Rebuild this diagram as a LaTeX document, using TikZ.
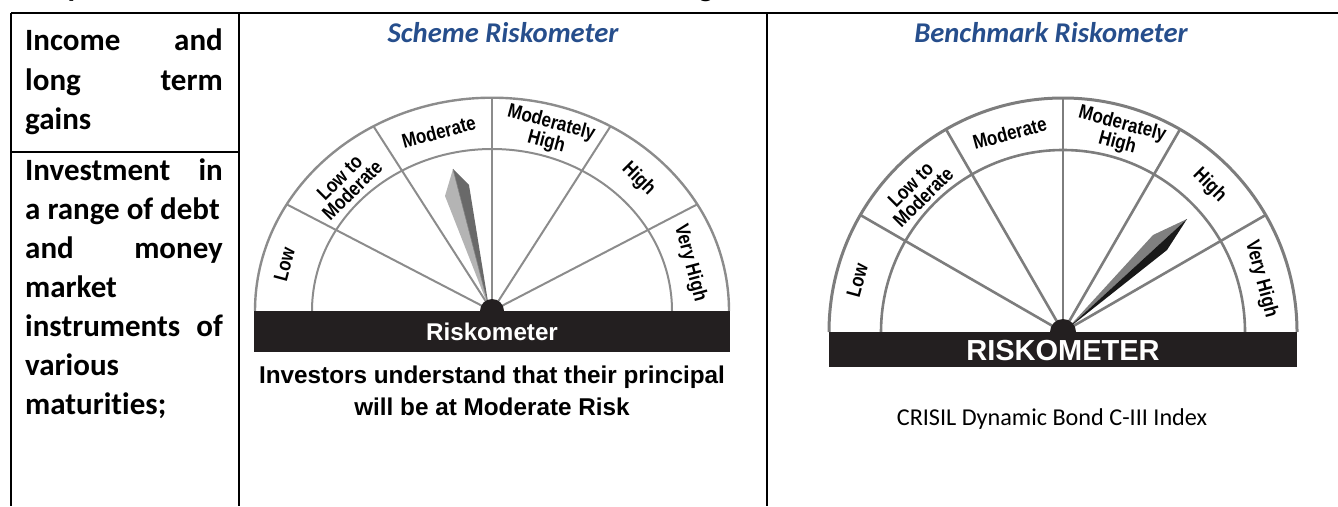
\documentclass[tikz,border=0pt]{standalone}
\usepackage{fontspec}
\setmainfont{Carlito}[Ligatures=NoCommon]
\newfontfamily\helv{Liberation Sans}
\newfontfamily\helvc[FakeStretch=0.85]{Liberation Sans}
\definecolor{hdrblue}{RGB}{38,78,140}
\definecolor{sgray}{RGB}{140,140,140}
\definecolor{bgray}{RGB}{125,125,125}
\definecolor{barblack}{RGB}{35,31,32}
\definecolor{needlelight}{RGB}{180,180,180}
\definecolor{needledark}{RGB}{105,105,105}
\definecolor{needlemid}{RGB}{128,128,128}
\definecolor{needleblack}{RGB}{25,25,25}
\begin{document}
\begin{tikzpicture}[x=1pt,y=1pt,
  tbl/.style={line width=2pt, black},
  cell/.style={inner sep=0pt, font=\fontsize{31}{39}\selectfont\bfseries},
  hdr/.style={inner sep=0pt, anchor=base, text=hdrblue, font=\fontsize{28.6}{34}\selectfont\bfseries\itshape},
  glab/.style={inner sep=0pt, align=center, font=\helvc\bfseries\fontsize{20}{18}\selectfont},
  sline/.style={line width=2pt, sgray},
  bline/.style={line width=2.6pt, bgray},
  bartext/.style={inner sep=0pt, anchor=base, text=white, font=\helv\bfseries\fontsize{24.2}{28}\selectfont},
  captext/.style={inner sep=0pt, anchor=base, font=\helv\bfseries\fontsize{24.3}{32}\selectfont},
]
\useasboundingbox (0,0) rectangle (1338,-506);

% cropped title fragments at the very top
\begin{scope}
  \clip (0,0) rectangle (1338,-12);
  \node[cell, anchor=base] (frag1) at (76,3.5) {p};
  \node[cell, anchor=base] (frag2) at (706,3.5) {g};
\end{scope}

% table rules
\draw[tbl] (11,-13) -- (1338,-13);
\draw[tbl] (11,-13) -- (11,-506);
\draw[tbl] (239,-13) -- (239,-506);
\draw[tbl] (767,-13) -- (767,-506);
\draw[tbl] (11,-152) -- (239,-152);

% column 1 text
\node[cell, anchor=base west] (c1a) at (25,-50) {Income};
\node[cell, anchor=base east] (c1b) at (223,-50) {and};
\node[cell, anchor=base west] (c1c) at (25,-90) {long};
\node[cell, anchor=base east] (c1d) at (223,-90) {term};
\node[cell, anchor=base west] (c1e) at (25,-129) {gains};
\node[cell, anchor=base west] (c2a) at (25,-180) {Investment};
\node[cell, anchor=base east] (c2b) at (223,-180) {in};
\node[cell, anchor=base west] (c2c) at (25,-219) {a range of debt};
\node[cell, anchor=base west] (c2d) at (25,-258) {and};
\node[cell, anchor=base east] (c2e) at (223,-258) {money};
\node[cell, anchor=base west] (c2f) at (25,-297) {market};
\node[cell, anchor=base west] (c2g) at (25,-336) {instruments};
\node[cell, anchor=base east] (c2h) at (223,-336) {of};
\node[cell, anchor=base west] (c2i) at (25,-375) {various};
\node[cell, anchor=base west] (c2j) at (25,-414) {maturities;};

% headers
\node[hdr] (h1) at (503,-42) {Scheme Riskometer};
\node[hdr] (h2) at (1051,-42) {Benchmark Riskometer};

% ---------------- Scheme riskometer ----------------
\begin{scope}[shift={(492,-311)}]
  \begin{scope}[yscale=0.9]
    \foreach \a in {30,60,90,120,150} \draw[sline] (0,0) -- (\a:237);
    \draw[sline, line width=2.4pt] (-237,0) arc[start angle=180, end angle=0, radius=237];
    \draw[sline] (-180,0) arc[start angle=180, end angle=0, radius=180];
    \node[glab, rotate=75] (sl1) at (166:214) {Low};
    \node[glab, rotate=45] (sl2) at (136:203) {Low to\\Moderate};
    \node[glab, rotate=15] (sl3) at (105:206) {Moderate};
    \node[glab, rotate=-15] (sl4) at (74:206) {Moderately\\High};
    \node[glab, rotate=-45] (sl5) at (45:207) {High};
    \node[glab, rotate=-75] (sl6) at (15:205) {Very High};
  \end{scope}
\end{scope}
% scheme needle
\fill[needlelight] (453,-169) -- (445,-196) -- (489,-308) -- cycle;
\fill[needledark] (453,-169) -- (469,-185) -- (489,-308) -- cycle;
\draw[needlemid, line width=0.6pt] (453,-169) -- (489,-308);
% scheme bar and hub
\fill[barblack] (492,-311) circle[radius=12];
\fill[barblack] (254,-311) rectangle (730,-352);
\node[bartext] (sbar) at (492,-340) {Riskometer};
\node[captext] (scap1) at (492,-383) {Investors understand that their principal};
\node[captext] (scap2) at (492,-415) {will be at Moderate Risk};

% ---------------- Benchmark riskometer ----------------
\begin{scope}[shift={(1063,-332)}]
  \foreach \a in {30,60,90,120,150} \draw[bline] (0,0) -- (\a:234);
  \draw[bline, line width=3pt] (-234,0) arc[start angle=180, end angle=0, radius=234];
  \draw[bline] (-182,0) arc[start angle=180, end angle=0, radius=182];
  \node[glab, rotate=75] (bl1) at (166:212) {Low};
  \node[glab, rotate=45] (bl2) at (136:203) {Low to\\Moderate};
  \node[glab, rotate=15] (bl3) at (105:206) {Moderate};
  \node[glab, rotate=-15] (bl4) at (74:206) {Moderately\\High};
  \node[glab, rotate=-45] (bl5) at (45:207) {High};
  \node[glab, rotate=-75] (bl6) at (15:205) {Very High};
\end{scope}
% benchmark needle
\fill[needlemid] (1187,-219) -- (1153,-235) -- (1066,-330) -- cycle;
\fill[needleblack] (1187,-219) -- (1167,-250) -- (1066,-330) -- cycle;
% benchmark bar and hub
\fill[barblack] (1063,-332) circle[radius=13];
\fill[barblack] (829,-332) rectangle (1297,-367);
\node[inner sep=0pt, anchor=base, text=white, font=\helv\bfseries\fontsize{29}{32}\selectfont] (bbar) at (1063,-360.5) {RISKOMETER};
\node[inner sep=0pt, anchor=base, font=\fontsize{24.2}{28}\selectfont] (bcap) at (1052,-425) {CRISIL Dynamic Bond C-III Index};
\end{tikzpicture}
\end{document}
